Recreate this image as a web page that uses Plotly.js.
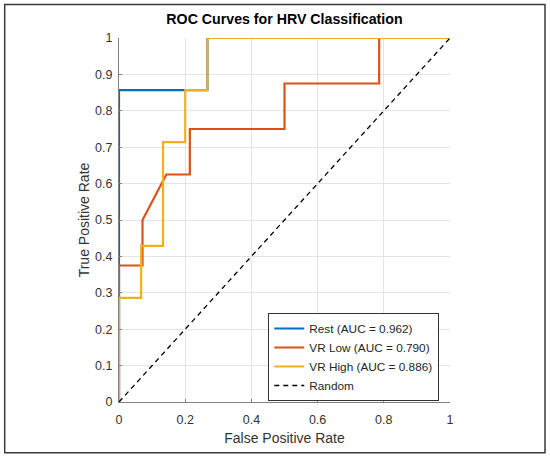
<!DOCTYPE html>
<html>
<head>
<meta charset="utf-8">
<script src="https://cdn.plot.ly/plotly-3.0.1.min.js"></script>
<style>html,body{margin:0;padding:0;background:#fff;}#chart{width:550px;height:457px;}</style>
</head>
<body>
<div id="chart"></div>
<script>
// Data
var restFPR = [0, 0, 0.267, 0.267, 1];
var restTPR = [0, 0.857, 0.857, 1, 1];

var vrLowFPR = [0, 0, 0.071, 0.071, 0.143, 0.214, 0.214, 0.5, 0.5, 0.786, 0.786, 1];
var vrLowTPR = [0, 0.375, 0.375, 0.5, 0.625, 0.625, 0.75, 0.75, 0.875, 0.875, 1, 1];

var vrHighFPR = [0, 0, 0.067, 0.067, 0.133, 0.133, 0.2, 0.2, 0.267, 0.267, 1];
var vrHighTPR = [0, 0.286, 0.286, 0.429, 0.429, 0.714, 0.714, 0.857, 0.857, 1, 1];

var randomFPR = [0, 1];
var randomTPR = [0, 1];

var seriesNames = ['Rest (AUC = 0.962)', 'VR Low (AUC = 0.790)', 'VR High (AUC = 0.886)', 'Random'];
var xTickVals = [0, 0.2, 0.4, 0.6, 0.8, 1];
var xTickText = ['0', '0.2', '0.4', '0.6', '0.8', '1'];
var yTickVals = [0, 0.1, 0.2, 0.3, 0.4, 0.5, 0.6, 0.7, 0.8, 0.9, 1];
var yTickText = ['0', '0.1', '0.2', '0.3', '0.4', '0.5', '0.6', '0.7', '0.8', '0.9', '1'];

var FONT = 'Arial, "Liberation Sans", Helvetica, sans-serif';

var traces = [
  {x: restFPR, y: restTPR, mode: 'lines', name: seriesNames[0], line: {color: '#0072BD', width: 2.2}},
  {x: vrLowFPR, y: vrLowTPR, mode: 'lines', name: seriesNames[1], line: {color: '#D95319', width: 2.2}},
  {x: vrHighFPR, y: vrHighTPR, mode: 'lines', name: seriesNames[2], line: {color: '#EDB120', width: 2.2}},
  {x: randomFPR, y: randomTPR, mode: 'lines', name: seriesNames[3], line: {color: '#000000', width: 1.3, dash: '5px,4px'}}
];

var layout = {
  width: 550, height: 457,
  margin: {l: 119, r: 100, t: 38, b: 55, pad: 0},
  paper_bgcolor: '#ffffff', plot_bgcolor: '#ffffff',
  font: {family: FONT, color: '#262626', size: 12.5},
  showlegend: true,
  title: {text: '<b>ROC Curves for HRV Classification</b>', font: {family: FONT, size: 14.2, color: '#000000'},
          x: 0.5, xref: 'paper', xanchor: 'center', y: 1 - 19.5/457, yref: 'container', yanchor: 'middle'},
  xaxis: {
    range: [0, 1], fixedrange: true,
    tickvals: xTickVals, ticktext: xTickText,
    showgrid: true, gridcolor: '#e4e4e4', gridwidth: 1,
    zeroline: false, showline: true, linecolor: '#808080', linewidth: 1,
    ticks: 'inside', ticklen: 3, tickcolor: '#808080',
    ticklabelstandoff: 6,
    tickfont: {family: FONT, size: 12.5, color: '#333333'},
    title: {text: 'False Positive Rate', font: {family: FONT, size: 14, color: '#333333'}, standoff: 7}
  },
  yaxis: {
    range: [0, 1], fixedrange: true,
    tickvals: yTickVals, ticktext: yTickText,
    showgrid: true, gridcolor: '#e4e4e4', gridwidth: 1,
    zeroline: false, showline: true, linecolor: '#808080', linewidth: 1,
    ticks: 'inside', ticklen: 3, tickcolor: '#808080',
    ticklabelstandoff: 3,
    tickfont: {family: FONT, size: 12.5, color: '#333333'},
    title: {text: 'True Positive Rate', font: {family: FONT, size: 14, color: '#333333'}, standoff: 2}
  },
  legend: {
    x: 0.451, y: 0.2445, xanchor: 'left', yanchor: 'top',
    bgcolor: '#ffffff', bordercolor: '#333333', borderwidth: 1,
    font: {family: FONT, size: 11.8, color: '#262626'},
    tracegroupgap: 0
  },
  shapes: [
    {type: 'rect', xref: 'paper', yref: 'paper', x0: -0.3453, x1: 1.287, y0: -0.1393, y1: 1.092,
     line: {color: '#3a3a3a', width: 1.5}, fillcolor: 'rgba(0,0,0,0)', layer: 'below'}
  ]
};

Plotly.newPlot('chart', traces, layout, {displayModeBar: false, staticPlot: true});
</script>
</body>
</html>
